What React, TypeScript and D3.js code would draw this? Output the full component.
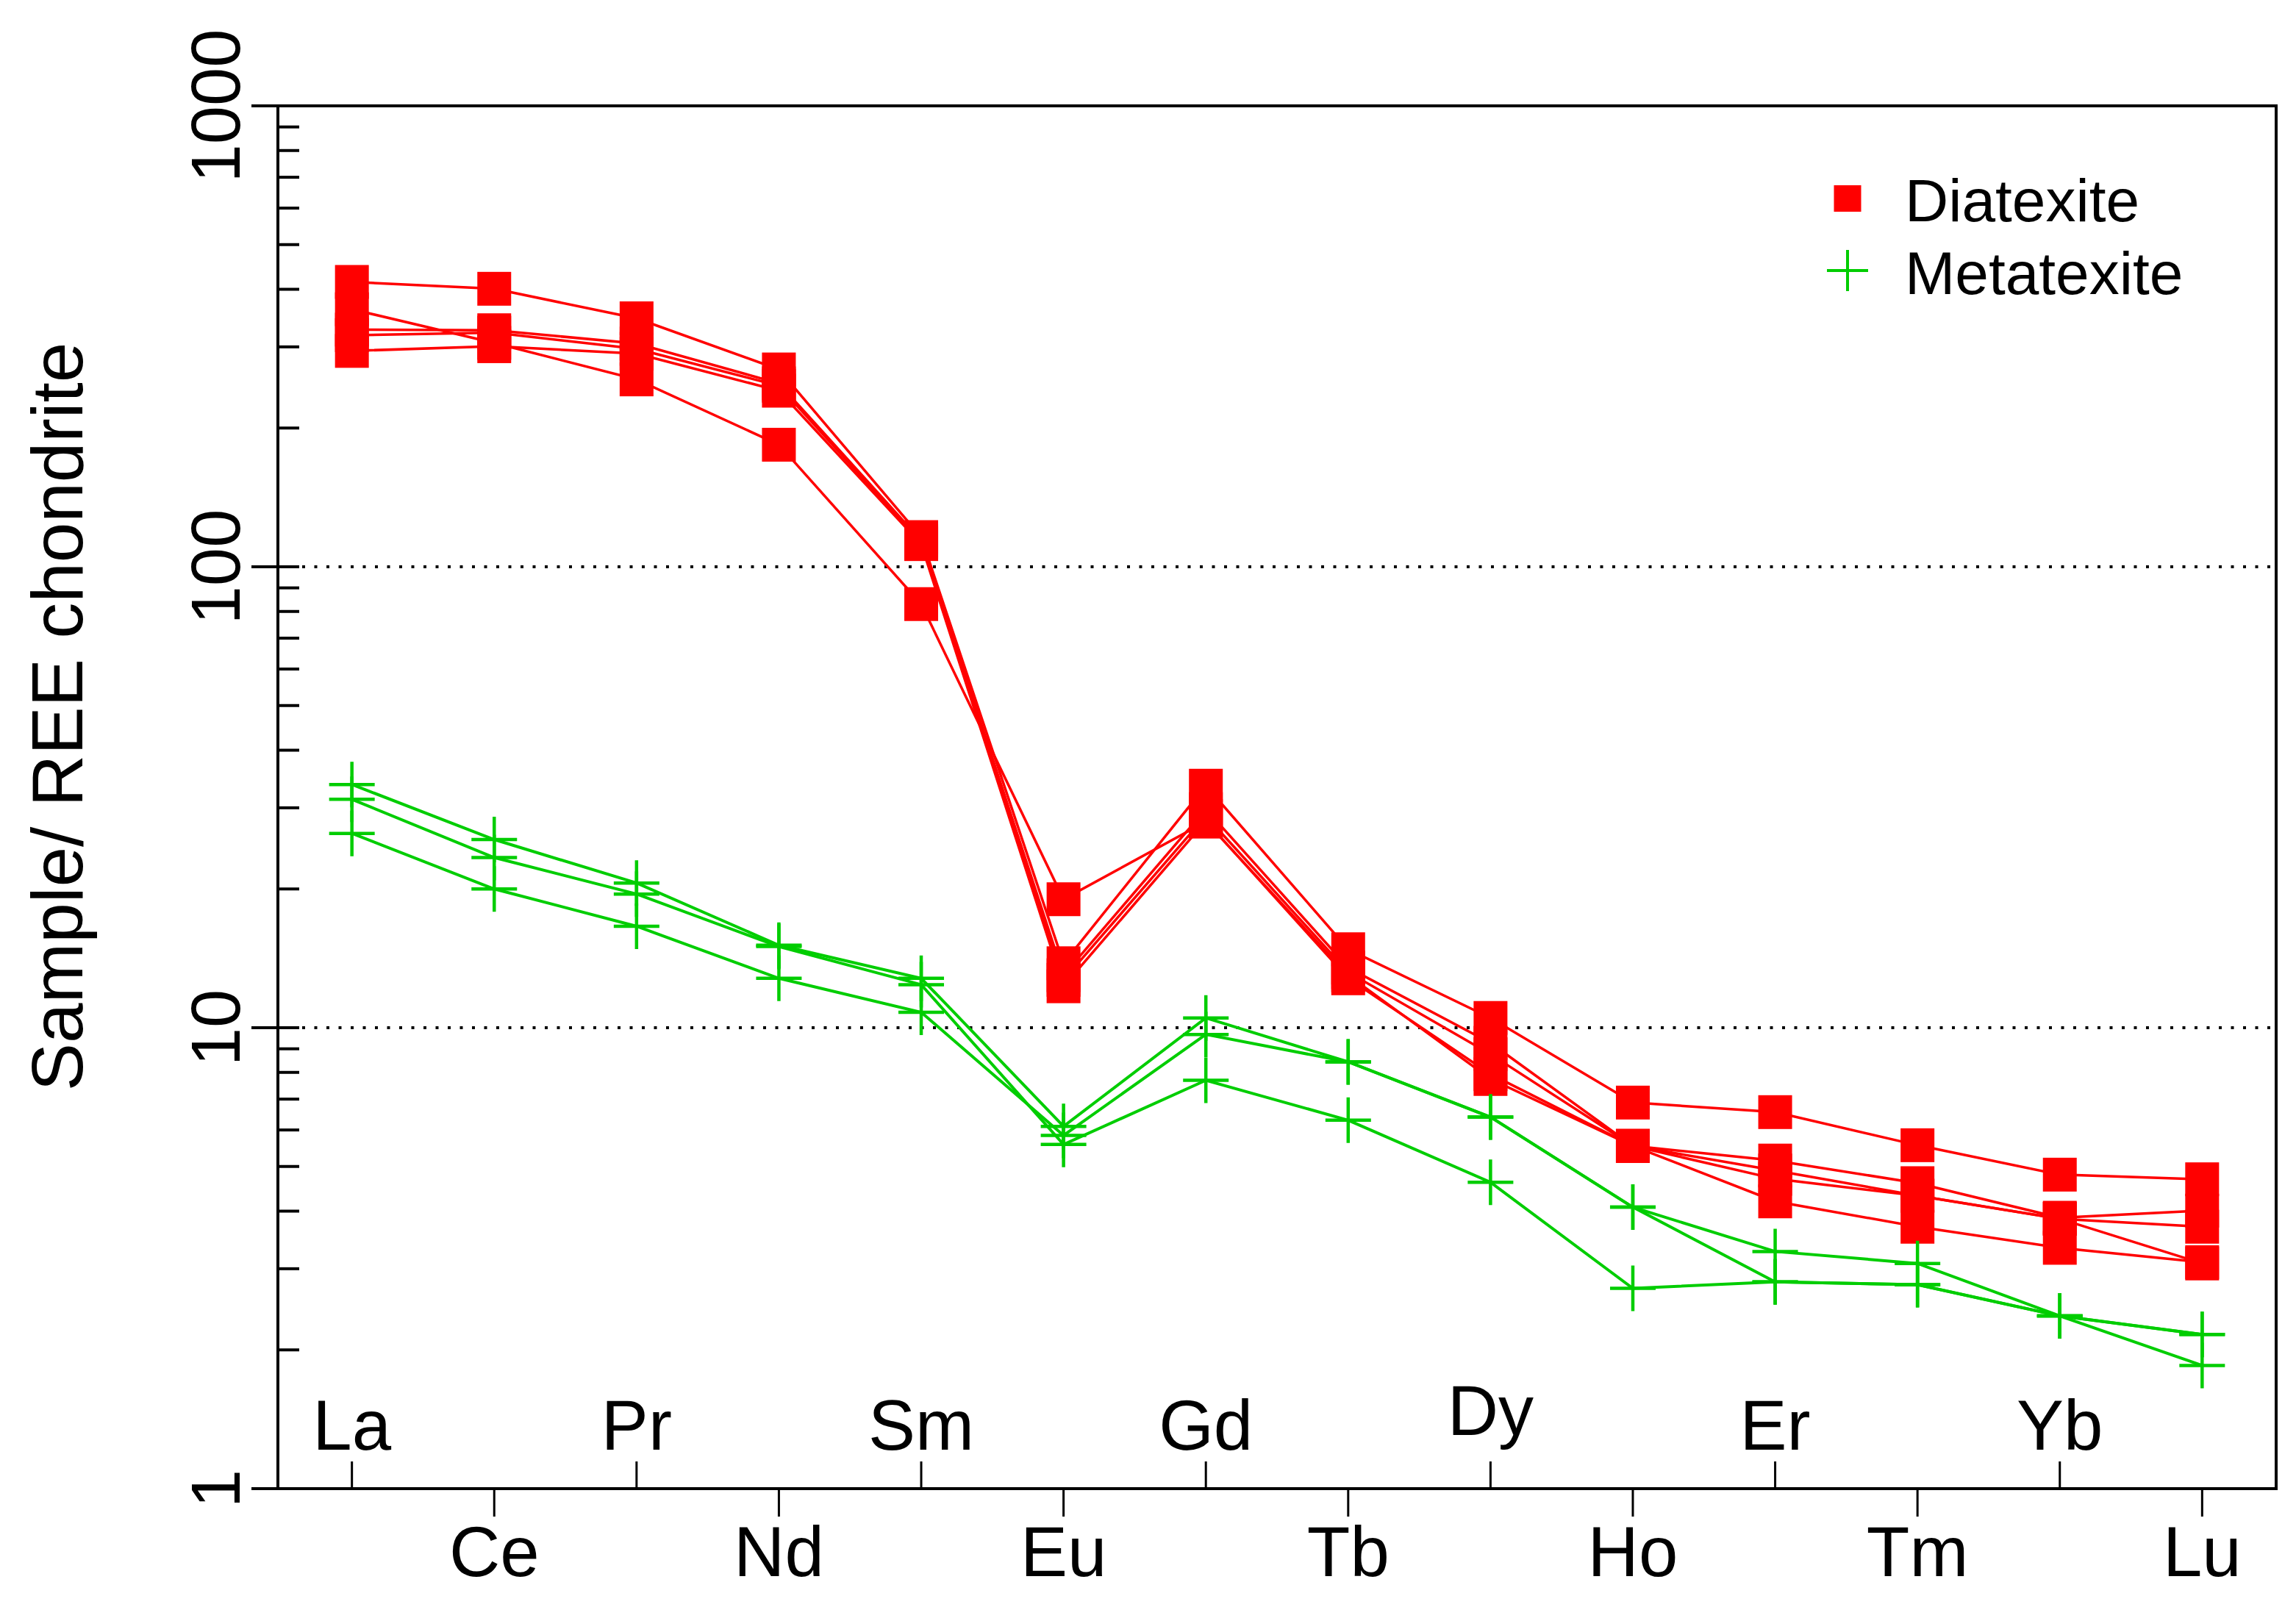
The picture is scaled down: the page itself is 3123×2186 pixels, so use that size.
import React, { useEffect, useRef } from "react";
import * as d3 from "d3";

// REE elements along the x axis
const elements = ["La", "Ce", "Pr", "Nd", "Sm", "Eu", "Gd", "Tb", "Dy", "Ho", "Er", "Tm", "Yb", "Lu"];

// chondrite-normalised values, one row per sample
const diatexite = [
  [415, 401, 346, 268, 116, 13.8, 33.5, 14.8, 10.5, 6.88, 6.56, 5.56, 4.8, 4.69],
  [362, 306, 255, 184, 83, 19.0, 28.0, 13.0, 7.74, 5.54, 4.2, 3.7, 3.33, 3.1],
  [327, 326, 305, 250, 114, 13.0, 29.8, 13.5, 9.27, 5.54, 5.15, 4.6, 3.87, 4.01],
  [318, 322, 297, 247, 113, 12.7, 28.8, 13.2, 8.76, 5.54, 4.9, 4.32, 3.85, 3.7],
  [294, 301, 290, 241, 112, 12.3, 28.1, 12.8, 7.93, 5.54, 4.7, 4.32, 3.85, 3.08],
];

const metatexite = [
  [33.7, 25.6, 20.6, 15.1, 12.8, 6.11, 10.5, 8.43, 6.4, 4.08, 3.27, 3.08, 2.37, 1.85],
  [31.3, 23.4, 19.5, 15.0, 12.4, 5.58, 7.69, 6.3, 4.62, 2.72, 2.81, 2.77, 2.37, 2.16],
  [26.4, 20.0, 16.6, 12.8, 10.8, 5.84, 9.67, 8.43, 6.4, 4.08, 2.81, 2.77, 2.37, 2.16],
];

const majorTicks = [1, 10, 100, 1000];
const gridValues = [10, 100];
const legendNames = ["Diatexite", "Metatexite"];

const W = 3123;
const H = 2186;
const RED = "#ff0000";
const GREEN = "#00cd00";

const App: React.FC = () => {
  const ref = useRef<SVGSVGElement | null>(null);

  useEffect(() => {
    const svg = d3.select(ref.current);
    svg.selectAll("*").remove();

    const margin = { top: 144, right: 27, bottom: 161, left: 378 };
    const left = margin.left;
    const right = W - margin.right;
    const bottom = H - margin.bottom;
    const font = '"Liberation Sans", Arial, Helvetica, sans-serif';

    const x = d3.scalePoint<string>().domain(elements).range([left, right]).padding(0.52);
    const y = d3.scaleLog().domain([1, 1000]).range([bottom, margin.top]);

    svg.append("rect").attr("width", W).attr("height", H).attr("fill", "#fff");

    // dotted gridlines
    svg
      .append("g")
      .selectAll("line")
      .data(gridValues)
      .join("line")
      .attr("x1", left)
      .attr("x2", right)
      .attr("y1", (d) => y(d))
      .attr("y2", (d) => y(d))
      .attr("stroke", "#000")
      .attr("stroke-width", 4)
      .attr("stroke-dasharray", "4 12.5");

    const line = d3
      .line<number>()
      .x((_, i) => x(elements[i])!)
      .y((d) => y(d));

    // Diatexite
    const red = svg.append("g");
    diatexite.forEach((row) => {
      red
        .append("path")
        .attr("d", line(row))
        .attr("fill", "none")
        .attr("stroke", RED)
        .attr("stroke-width", 3.5);
    });
    diatexite.forEach((row) => {
      red
        .append("g")
        .selectAll("rect")
        .data(row)
        .join("rect")
        .attr("x", (_, i) => x(elements[i])! - 23)
        .attr("y", (d) => y(d) - 23)
        .attr("width", 46)
        .attr("height", 46)
        .attr("fill", RED);
    });

    // Metatexite
    const green = svg.append("g");
    metatexite.forEach((row) => {
      green
        .append("path")
        .attr("d", line(row))
        .attr("fill", "none")
        .attr("stroke", GREEN)
        .attr("stroke-width", 4);
      green
        .append("g")
        .selectAll("path")
        .data(row)
        .join("path")
        .attr("transform", (d, i) => `translate(${x(elements[i])},${y(d)})`)
        .attr("d", "M-31,0H31M0,-31V31")
        .attr("stroke", GREEN)
        .attr("stroke-width", 4.5);
    });

    // frame
    svg
      .append("rect")
      .attr("x", left)
      .attr("y", margin.top)
      .attr("width", right - left)
      .attr("height", bottom - margin.top)
      .attr("fill", "none")
      .attr("stroke", "#000")
      .attr("stroke-width", 4);

    // y axis ticks
    const minor = y.ticks().filter((d) => !majorTicks.includes(d));
    svg
      .append("g")
      .selectAll("line")
      .data(minor)
      .join("line")
      .attr("x1", left)
      .attr("x2", left + 29)
      .attr("y1", (d) => y(d))
      .attr("y2", (d) => y(d))
      .attr("stroke", "#000")
      .attr("stroke-width", 4);
    svg
      .append("g")
      .selectAll("line")
      .data(majorTicks)
      .join("line")
      .attr("x1", left - 36)
      .attr("x2", left + 29)
      .attr("y1", (d) => y(d))
      .attr("y2", (d) => y(d))
      .attr("stroke", "#000")
      .attr("stroke-width", 4);
    svg
      .append("g")
      .selectAll("text")
      .data(majorTicks)
      .join("text")
      .attr("transform", (d) => `translate(326,${y(d)}) rotate(-90)`)
      .attr("text-anchor", "middle")
      .style("font-family", font)
      .style("font-size", "94px")
      .text((d) => String(d));

    // y title
    svg
      .append("text")
      .attr("transform", `translate(112,975) rotate(-90)`)
      .attr("text-anchor", "middle")
      .style("font-family", font)
      .style("font-size", "98px")
      .text("Sample/ REE chondrite");

    // x ticks: even elements inside, odd elements outside
    const fs = 96;
    const xAxis = svg.append("g");
    elements.forEach((el, i) => {
      const px = x(el)!;
      const inside = i % 2 === 0;
      xAxis
        .append("line")
        .attr("x1", px)
        .attr("x2", px)
        .attr("y1", bottom)
        .attr("y2", inside ? bottom - 37 : bottom + 38)
        .attr("stroke", "#000")
        .attr("stroke-width", 3);
      const desc = /[gjpqy]/.test(el) ? -0.21 * fs : 0;
      xAxis
        .append("text")
        .attr("x", px)
        .attr("y", (inside ? 1972 : 2144) + desc)
        .attr("text-anchor", "middle")
        .style("font-family", font)
        .style("font-size", `${fs}px`)
        .text(el);
    });

    // legend
    const legend = svg.append("g").attr("transform", "translate(2513,270)");
    legend
      .append("rect")
      .attr("x", -18.5)
      .attr("y", -18)
      .attr("width", 37)
      .attr("height", 36)
      .attr("fill", RED);
    legend
      .append("path")
      .attr("transform", "translate(0,98)")
      .attr("d", "M-28,0H28M0,-28V28")
      .attr("stroke", GREEN)
      .attr("stroke-width", 4);
    legend
      .selectAll("text")
      .data(legendNames)
      .join("text")
      .attr("x", 78)
      .attr("y", (_, i) => 31 + i * 99)
      .style("font-family", font)
      .style("font-size", "82px")
      .text((d) => d);
  }, []);

  return (
    <svg
      ref={ref}
      width={W}
      height={H}
      style={{ position: "absolute", left: 0, top: 0, display: "block" }}
    />
  );
};

export default App;
